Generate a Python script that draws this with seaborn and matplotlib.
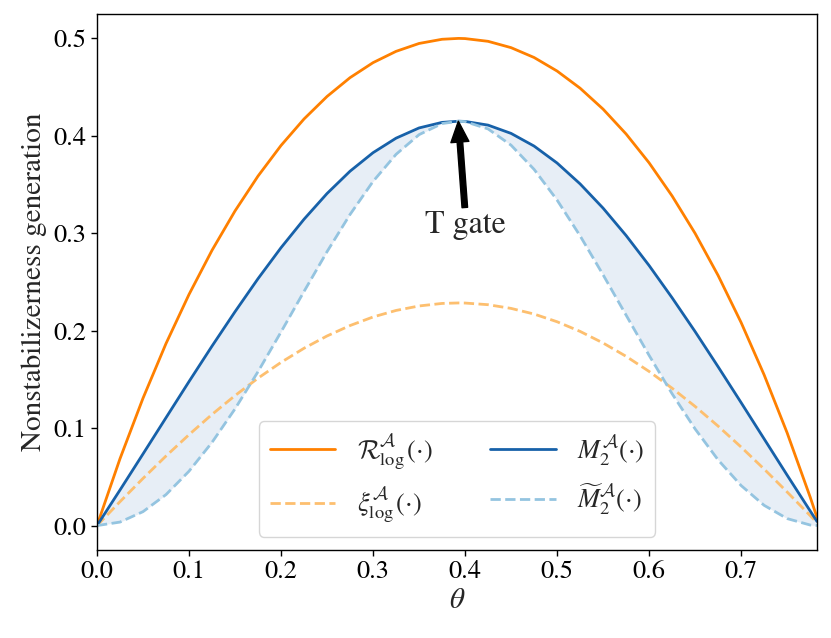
import matplotlib
matplotlib.use('Agg')
import matplotlib.pyplot as plt
import seaborn as sns

# values (theta in radians, 0 .. ~pi/4)
theta = [0.0, 0.025, 0.05, 0.075, 0.1, 0.125, 0.15, 0.175, 0.2, 0.225,
         0.25, 0.275, 0.3, 0.325, 0.35, 0.375, 0.393, 0.4, 0.425, 0.45,
         0.475, 0.5, 0.525, 0.55, 0.575, 0.6, 0.625, 0.65, 0.675, 0.7,
         0.725, 0.75, 0.775, 0.7825]

robust_log = [0.0, 0.0686, 0.1307, 0.1868, 0.2372, 0.2825, 0.3229, 0.3587, 0.3901, 0.4173,
              0.4404, 0.4597, 0.4751, 0.4867, 0.4948, 0.4991, 0.5000, 0.4998, 0.4970, 0.4905,
              0.4804, 0.4665, 0.4489, 0.4274, 0.4019, 0.3723, 0.3383, 0.2999, 0.2567, 0.2084,
              0.1547, 0.0952, 0.0294, 0.0083]

xi_log = [0.0, 0.0245, 0.0484, 0.0714, 0.0933, 0.1141, 0.1334, 0.1513, 0.1675, 0.1820,
          0.1946, 0.2053, 0.2141, 0.2208, 0.2254, 0.2280, 0.2285, 0.2284, 0.2267, 0.2229,
          0.2171, 0.2092, 0.1993, 0.1874, 0.1737, 0.1582, 0.1410, 0.1223, 0.1021, 0.0806,
          0.0580, 0.0345, 0.0103, 0.0029]

m2 = [0.0, 0.0365, 0.0735, 0.1107, 0.1478, 0.1842, 0.2195, 0.2534, 0.2852, 0.3144,
      0.3408, 0.3637, 0.3827, 0.3976, 0.4081, 0.4138, 0.4150, 0.4148, 0.4110, 0.4025,
      0.3895, 0.3721, 0.3507, 0.3258, 0.2977, 0.2669, 0.2338, 0.1991, 0.1630, 0.1262,
      0.0890, 0.0518, 0.0151, 0.0042]

m2_tilde = [0.0, 0.0036, 0.0143, 0.0318, 0.0558, 0.0854, 0.1198, 0.1580, 0.1987, 0.2403,
            0.2811, 0.3193, 0.3532, 0.3810, 0.4012, 0.4126, 0.4150, 0.4146, 0.4071, 0.3904,
            0.3656, 0.3341, 0.2974, 0.2574, 0.2160, 0.1747, 0.1353, 0.0992, 0.0674, 0.0411,
            0.0208, 0.0072, 0.0006, 0.0001]

t_gate_theta = 0.3927
t_gate_value = 0.415

c_orange = '#ff8000'
c_orange_light = '#fdbf6f'
c_blue = '#1761a9'
c_blue_light = '#94c4e0'

sns.set_theme(style='ticks')
plt.rcParams['font.family'] = ['STIXGeneral', 'DejaVu Serif']
plt.rcParams['mathtext.fontset'] = 'custom'
plt.rcParams['mathtext.rm'] = 'STIXGeneral'
plt.rcParams['mathtext.it'] = 'STIXGeneral:italic'
plt.rcParams['mathtext.bf'] = 'STIXGeneral:bold'
plt.rcParams['mathtext.cal'] = 'cmsy10'
plt.rcParams['axes.edgecolor'] = 'black'
plt.rcParams['xtick.color'] = 'black'
plt.rcParams['ytick.color'] = 'black'

fig, ax = plt.subplots(figsize=(8.31, 6.38), dpi=100)
fig.subplots_adjust(left=0.1167, right=0.9832, bottom=0.138, top=0.978)

sns.lineplot(x=theta, y=robust_log, color=c_orange, lw=2,
             label=r'$\mathcal{R}_{\log}^{\mathcal{A}}(\cdot)$', ax=ax)
sns.lineplot(x=theta, y=xi_log, color=c_orange_light, lw=2, linestyle='--',
             label=r'$\xi_{\log}^{\mathcal{A}}(\cdot)$', ax=ax)
sns.lineplot(x=theta, y=m2, color=c_blue, lw=2,
             label=r'$M_2^{\mathcal{A}}(\cdot)$', ax=ax)
sns.lineplot(x=theta, y=m2_tilde, color=c_blue_light, lw=2, linestyle='--',
             label=r'$\widetilde{M}_2^{\mathcal{A}}(\cdot)$', ax=ax)
ax.fill_between(theta, m2_tilde, m2, color=c_blue, alpha=0.1, lw=0)

ax.annotate('T gate', xy=(t_gate_theta, t_gate_value), xytext=(0.40, 0.308),
            ha='center', va='center', fontsize=23,
            arrowprops=dict(facecolor='black', edgecolor='black',
                            width=4, headwidth=13, headlength=15, shrink=0.0))

ax.set_xlim(theta[0], theta[-1])
ax.set_ylim(-0.025, 0.525)
ax.set_xticks([0.0, 0.1, 0.2, 0.3, 0.4, 0.5, 0.6, 0.7])
ax.set_yticks([0.0, 0.1, 0.2, 0.3, 0.4, 0.5])
ax.tick_params(labelsize=19, length=4, width=1)
ax.set_xlabel(r'$\theta$', fontsize=21, labelpad=3)
ax.set_ylabel('Nonstabilizerness generation', fontsize=21, labelpad=5)
for sp in ax.spines.values():
    sp.set_linewidth(1)

ax.legend(loc='lower center', ncol=2, fontsize=19, handlelength=2.5,
          columnspacing=2.2, edgecolor='#cccccc', fancybox=True)

fig.savefig('out.png', dpi=100)
